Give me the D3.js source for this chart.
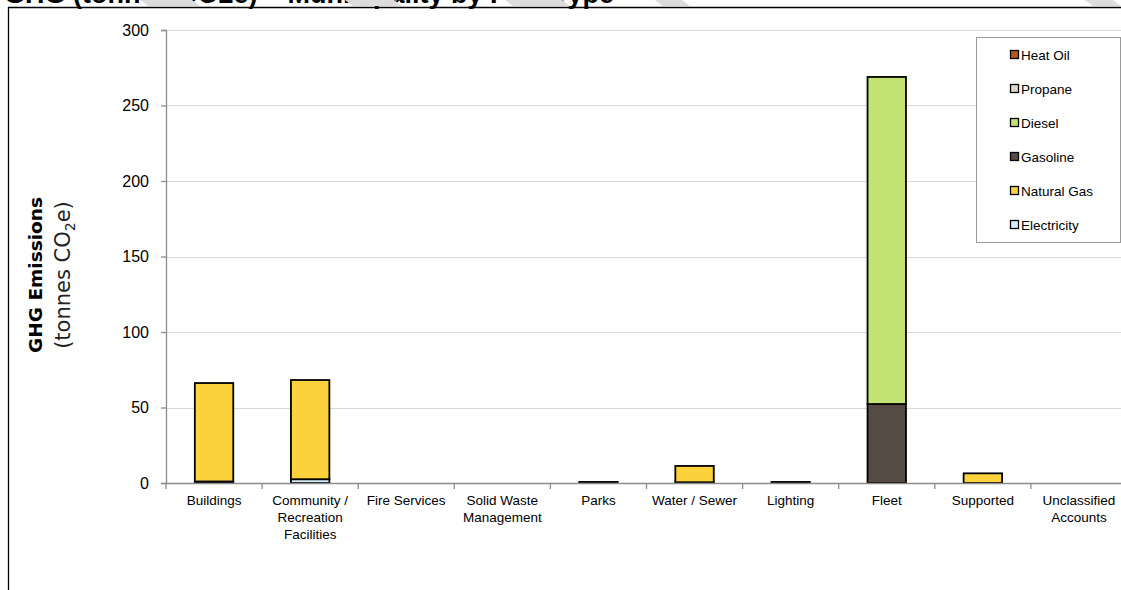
<!DOCTYPE html>
<html>
<head>
<meta charset="utf-8">
<script src="https://cdn.jsdelivr.net/npm/d3@7"></script>
<style>
  html, body { margin: 0; padding: 0; background: #fff; }
  svg { display: block; }
</style>
</head>
<body>
<svg id="chart" width="1121" height="590"></svg>
<script>
// Service categories along the x axis
const categories = [
  "Buildings", "Community / Recreation Facilities", "Fire Services",
  "Solid Waste Management", "Parks", "Water / Sewer", "Lighting",
  "Fleet", "Supported", "Unclassified Accounts"
];
// Wrapped label lines for each category
const categoryLines = [
  ["Buildings"], ["Community /", "Recreation", "Facilities"], ["Fire Services"],
  ["Solid Waste", "Management"], ["Parks"], ["Water / Sewer"], ["Lighting"],
  ["Fleet"], ["Supported"], ["Unclassified", "Accounts"]
];

// Emissions by fuel type (tonnes CO2e), one value per category
const electricity = [1.0, 2.5, 0, 0, 0.7, 0.5, 0.7, 0, 0, 0];
const naturalGas  = [65.2, 65.7, 0, 0, 0, 10.8, 0, 0, 6.4, 0];
const gasoline    = [0, 0, 0, 0, 0, 0, 0, 52.3, 0, 0];
const diesel      = [0, 0, 0, 0, 0, 0, 0, 216.6, 0, 0];
const propane     = [0, 0, 0, 0, 0, 0, 0, 0, 0, 0];
const heatOil     = [0, 0, 0, 0, 0, 0, 0, 0, 0, 0];

const fuelNames = ["Electricity", "Natural Gas", "Gasoline", "Diesel", "Propane", "Heat Oil"];
const fuelValues = [electricity, naturalGas, gasoline, diesel, propane, heatOil];
const fuelColors = ["#D6ECF6", "#FCD23C", "#554A44", "#C4E375", "#DEDAC6", "#B45A14"];

const yTicks = [0, 50, 100, 150, 200, 250, 300];

const svg = d3.select("#chart");

// Build rows for the stack layout
const rows = categories.map((c, i) => {
  const r = { category: c };
  fuelNames.forEach((f, k) => { r[f] = fuelValues[k][i]; });
  return r;
});
const series = d3.stack().keys(fuelNames)(rows);

const x = d3.scaleBand().domain(categories).range([166, 1127])
  .paddingInner(0.6).paddingOuter(0.3);
const y = d3.scaleLinear().domain([0, 300]).range([483, 30]);
const color = d3.scaleOrdinal().domain(fuelNames).range(fuelColors);

// Page title, running off the top edge
svg.append("text")
  .attr("x", 4).attr("y", 3)
  .attr("font-family", "Liberation Sans, Arial, sans-serif")
  .attr("font-weight", "bold").attr("font-size", 27)
  .attr("fill", "#000")
  .text("GHG (tonnes CO2e) – Municipality by Fuel Type");

// Light diagonal bands across the title strip
const bands = [[140, 200], [345, 402], [505, 570], [655, 690], [1085, 1121]];
svg.append("g").selectAll("path").data(bands).join("path")
  .attr("d", d => `M${d[0]},0 L${d[1] - 8},0 L${d[1]},6 L${d[0] + 8},6 Z`)
  .attr("fill", "#dcdcdc");

// Outer frame
svg.append("path")
  .attr("d", "M8.5,590 L8.5,7.5 L1121,7.5")
  .attr("fill", "none").attr("stroke", "#000").attr("stroke-width", 1.3);

// Horizontal gridlines
svg.append("g").selectAll("line").data(yTicks.filter(t => t > 0)).join("line")
  .attr("x1", 166).attr("x2", 1121)
  .attr("y1", d => Math.round(y(d)) + 0.5).attr("y2", d => Math.round(y(d)) + 0.5)
  .attr("stroke", "#d9d9d9").attr("stroke-width", 1);

// Y axis
const yAxis = svg.append("g").attr("transform", "translate(166,0)")
  .call(d3.axisLeft(y).tickValues(yTicks).tickSize(5).tickPadding(12).tickFormat(d3.format("d")));
yAxis.select(".domain").attr("stroke", "#8c8c8c").attr("stroke-width", 1.3);
yAxis.selectAll(".tick line").attr("stroke", "#8c8c8c").attr("stroke-width", 1.3);
yAxis.selectAll(".tick text")
  .attr("font-family", "Liberation Sans, Arial, sans-serif")
  .attr("font-size", 16).attr("fill", "#000");

// Stacked bars
svg.append("g").selectAll("g").data(series).join("g")
  .attr("fill", d => color(d.key))
  .selectAll("rect").data(d => d.filter(p => p[1] - p[0] > 0)).join("rect")
  .attr("x", d => x(d.data.category))
  .attr("width", x.bandwidth())
  .attr("y", d => y(d[1]))
  .attr("height", d => y(d[0]) - y(d[1]))
  .attr("stroke", "#000").attr("stroke-width", 1.8);

// X axis line and category separators
const step = x.step();
const x0 = x.range()[0];
svg.append("line")
  .attr("x1", 166).attr("x2", 1121).attr("y1", 483.5).attr("y2", 483.5)
  .attr("stroke", "#8c8c8c").attr("stroke-width", 1.3);
svg.append("g").selectAll("line").data(d3.range(categories.length + 1)).join("line")
  .attr("x1", i => x0 + i * step).attr("x2", i => x0 + i * step)
  .attr("y1", 483).attr("y2", 489)
  .attr("stroke", "#8c8c8c").attr("stroke-width", 1.3);

// Category labels
const labels = svg.append("g").selectAll("text").data(categories).join("text")
  .attr("font-family", "Liberation Sans, Arial, sans-serif")
  .attr("font-size", 13.5).attr("fill", "#000")
  .attr("text-anchor", "middle");
labels.each(function (c, i) {
  const cx = x(c) + x.bandwidth() / 2;
  d3.select(this).selectAll("tspan").data(categoryLines[i]).join("tspan")
    .attr("x", cx).attr("y", (d, j) => 505 + j * 17).text(d => d);
});

// Y axis title
const yt = svg.append("g");
yt.append("text")
  .attr("transform", "translate(42,275) rotate(-90)")
  .attr("text-anchor", "middle")
  .attr("font-family", "DejaVu Sans, Verdana, sans-serif")
  .attr("font-weight", "bold").attr("font-size", 18.5)
  .text("GHG Emissions");
const t2 = yt.append("text")
  .attr("transform", "translate(70,275) rotate(-90)")
  .attr("text-anchor", "middle")
  .attr("font-family", "DejaVu Sans, Verdana, sans-serif")
  .attr("font-size", 21).attr("fill", "#222");
t2.append("tspan").text("(tonnes CO");
t2.append("tspan").attr("font-size", 14).attr("dy", 5).text("2");
t2.append("tspan").attr("dy", -5).text("e)");

// Legend
const legend = svg.append("g");
legend.append("rect")
  .attr("x", 976.5).attr("y", 37.5).attr("width", 144).attr("height", 205)
  .attr("fill", "#fff").attr("stroke", "#9a9a9a").attr("stroke-width", 1);
const legendOrder = fuelNames.slice().reverse();
const items = legend.selectAll("g.item").data(legendOrder).join("g")
  .attr("class", "item")
  .attr("transform", (d, i) => `translate(1010,${55 + i * 34})`);
items.append("rect")
  .attr("x", 0.5).attr("y", -4.5).attr("width", 8).attr("height", 8)
  .attr("fill", d => color(d)).attr("stroke", "#000").attr("stroke-width", 1.3);
items.append("text")
  .attr("x", 11).attr("y", 4.5)
  .attr("font-family", "Liberation Sans, Arial, sans-serif")
  .attr("font-size", 13.5).attr("fill", "#000")
  .text(d => d);
</script>
</body>
</html>
